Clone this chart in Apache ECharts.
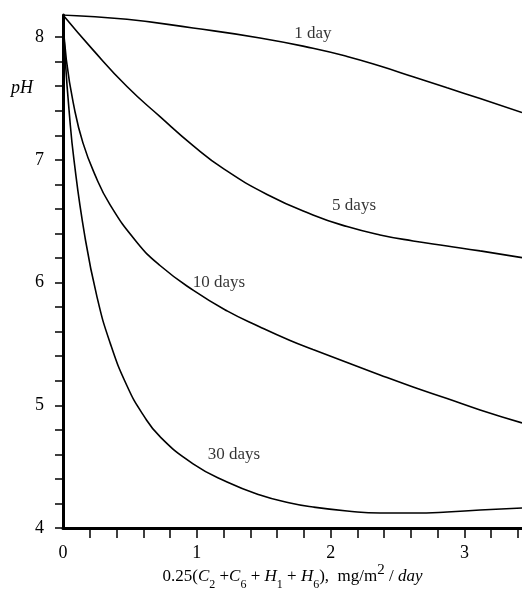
<!DOCTYPE html>
<html>
<head>
<meta charset="utf-8">
<script src="https://cdn.jsdelivr.net/npm/echarts@6/dist/echarts.min.js"></script>
<style>html,body{margin:0;padding:0;background:#fff;}#c{width:522px;height:592px;}</style>
</head>
<body>
<div id="c"></div>
<script>
// ---- data ----
const day1X = [0, 0.478, 0.972, 1.472, 1.868, 2.123, 2.369, 2.616, 2.870, 3.117, 3.43];
const day1Y = [8.18, 8.145, 8.074, 7.993, 7.909, 7.842, 7.764, 7.677, 7.587, 7.499, 7.385];

const day5X = [0, 0.224, 0.478, 0.725, 0.972, 1.196, 1.525, 1.868, 2.123, 2.369, 2.616, 2.870, 3.117, 3.43];
const day5Y = [8.18, 7.896, 7.597, 7.352, 7.116, 6.930, 6.718, 6.551, 6.456, 6.388, 6.339, 6.298, 6.258, 6.203];

const day10X = [0, 0.025, 0.087, 0.149, 0.232, 0.351, 0.553, 0.725, 0.972, 1.226, 1.472, 1.697, 1.868, 2.123, 2.369, 2.616, 2.870, 3.117, 3.43];
const day10Y = [8.18, 7.814, 7.407, 7.138, 6.896, 6.635, 6.327, 6.139, 5.938, 5.769, 5.638, 5.528, 5.455, 5.349, 5.247, 5.149, 5.055, 4.962, 4.856];

const day30X = [0, 0.017, 0.045, 0.082, 0.164, 0.254, 0.351, 0.478, 0.598, 0.725, 0.972, 1.226, 1.472, 1.697, 1.868, 2.123, 2.369, 2.616, 2.870, 3.117, 3.43];
const day30Y = [8.18, 7.814, 7.407, 6.999, 6.372, 5.883, 5.512, 5.159, 4.924, 4.744, 4.523, 4.375, 4.269, 4.204, 4.171, 4.139, 4.122, 4.122, 4.130, 4.147, 4.163];

const curveNames = ['1 day', '5 days', '10 days', '30 days'];
const labelX = [1.868, 2.175, 1.166, 1.278];
const labelY = [8.026, 6.624, 5.997, 4.595];

const xTickValues = [0.2,0.4,0.6,0.8,1,1.2,1.4,1.6,1.8,2,2.2,2.4,2.6,2.8,3,3.2,3.4];
const xLabelValues = [0, 1, 2, 3];
const yTickValues = [4,4.2,4.4,4.6,4.8,5,5.2,5.4,5.6,5.8,6,6.2,6.4,6.6,6.8,7,7.2,7.4,7.6,7.8,8];
const yLabelValues = [4, 5, 6, 7, 8];

// ---- chart ----
const FONT = 'Liberation Serif';
const zip = (xs, ys) => xs.map((x, i) => [x, ys[i]]);
const lineSeries = (name, xs, ys) => ({
  name, type: 'line', data: zip(xs, ys), smooth: 0.5,
  showSymbol: false, symbol: 'none',
  lineStyle: { color: '#000', width: 1.6 }, silent: true
});

const chart = echarts.init(document.getElementById('c'), null, { renderer: 'canvas' });
chart.setOption({
  animation: false,
  backgroundColor: '#fff',
  grid: { left: 63, right: 0, top: 15, bottom: 64, containLabel: false, outerBoundsMode: 'none' },
  xAxis: {
    type: 'value', min: 0, max: 3.43,
    axisLine: { show: true, lineStyle: { color: '#000', width: 3 } },
    axisTick: { show: true, customValues: xTickValues, length: 10, lineStyle: { color: '#000', width: 1.5 } },
    axisLabel: { customValues: xLabelValues, margin: 16, color: '#000', fontFamily: FONT, fontSize: 18 },
    splitLine: { show: false },
    name: '{n|0.25(}{i|C}{s|2}{n| +}{i|C}{s|6}{n| + }{i|H}{s|1}{n| + }{i|H}{s|6}{n|),  mg/m}{p|2}{n| / }{i|day}',
    nameLocation: 'middle', nameGap: 38, nameMoveOverlap: false,
    nameTextStyle: {
      color: '#000', fontFamily: FONT, fontSize: 17,
      rich: {
        n: { fontFamily: FONT, fontSize: 17, color: '#000', lineHeight: 22, verticalAlign: 'middle' },
        i: { fontFamily: FONT, fontSize: 17, fontStyle: 'italic', color: '#000', lineHeight: 22, verticalAlign: 'middle' },
        s: { fontFamily: FONT, fontSize: 12, color: '#000', lineHeight: 12, verticalAlign: 'bottom', padding: [0, 0, -3, 0] },
        p: { fontFamily: FONT, fontSize: 15, color: '#000', lineHeight: 15, verticalAlign: 'top', padding: [-3, 0, 0, 0] }
      }
    }
  },
  yAxis: {
    type: 'value', min: 4, max: 8.18,
    axisLine: { show: true, lineStyle: { color: '#000', width: 3 } },
    axisTick: { show: true, customValues: yTickValues, length: 8, lineStyle: { color: '#000', width: 1.5 } },
    axisLabel: { customValues: yLabelValues, margin: 19, color: '#000', fontFamily: FONT, fontSize: 18 },
    splitLine: { show: false }
  },
  graphic: [{
    type: 'text', left: 11, top: 79,
    style: { text: 'pH', fontFamily: FONT, fontSize: 18, fontStyle: 'italic', fill: '#000' }
  }],
  series: [
    lineSeries(curveNames[0], day1X, day1Y),
    lineSeries(curveNames[1], day5X, day5Y),
    lineSeries(curveNames[2], day10X, day10Y),
    lineSeries(curveNames[3], day30X, day30Y),
    {
      type: 'scatter', symbolSize: 0, silent: true,
      data: curveNames.map((n, i) => ({ name: n, value: [labelX[i], labelY[i]] })),
      label: { show: true, position: 'inside', formatter: p => p.name, color: '#000', fontFamily: FONT, fontSize: 17 }
    }
  ]
});
</script>
</body>
</html>
